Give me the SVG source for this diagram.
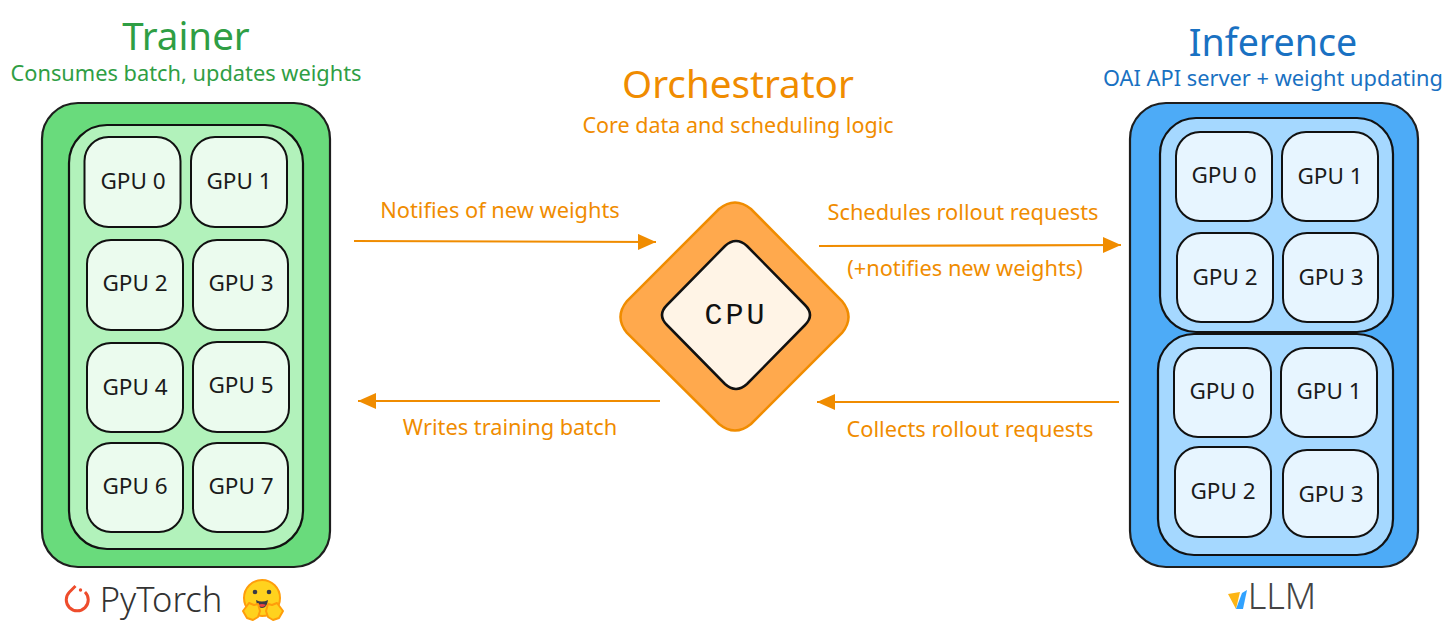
<svg xmlns="http://www.w3.org/2000/svg" width="1456" height="641" viewBox="0 0 1456 641">
<style>
text{font-family:"Noto Sans","Open Sans",sans-serif;text-anchor:middle}
.gpu-t{font-size:22.500px;fill:#1a1a1a}
.g3{fill:#ebfbee;stroke:#111;stroke-width:2}
.g2{fill:#b2f2bb;stroke:#111;stroke-width:2.200}
.g1{fill:#69db7c;stroke:#1e1e1e;stroke-width:2.200}
.b3{fill:#e7f5ff;stroke:#111;stroke-width:2}
.b2{fill:#a5d8ff;stroke:#111;stroke-width:2.200}
.b1{fill:#4dabf7;stroke:#1e1e1e;stroke-width:2.200}
.ol{font-size:21.800px;fill:#f08c00}
.c{stroke:#f08c00;stroke-width:2.200;fill:none;marker-end:url(#ah)}
</style>
<defs>
<marker id="ah" markerUnits="userSpaceOnUse" markerWidth="20" markerHeight="18" refX="18" refY="8" orient="auto"><path d="M0 0L18 8L0 16Z" fill="#f08c00"/></marker>
</defs>
<g id="trainer">
<text x="186" y="50" font-size="38.500" fill="#2f9e44">Trainer</text>
<text x="186" y="81" font-size="21.800" fill="#2f9e44">Consumes batch, updates weights</text>
<rect class="g1" x="42" y="103" width="288" height="464" rx="36"/>
<rect class="g2" x="69" y="125" width="234" height="424" rx="38"/>
</g>
<g id="trainer-gpu0"><rect class="g3" x="84.500" y="137" width="96" height="90" rx="24"/><text class="gpu-t" x="133" y="189">GPU 0</text></g>
<g id="trainer-gpu1"><rect class="g3" x="191" y="137" width="96" height="90" rx="24"/><text class="gpu-t" x="239" y="189">GPU 1</text></g>
<g id="trainer-gpu2"><rect class="g3" x="87" y="240" width="96" height="90" rx="24"/><text class="gpu-t" x="135" y="291">GPU 2</text></g>
<g id="trainer-gpu3"><rect class="g3" x="193" y="240" width="95" height="90" rx="24"/><text class="gpu-t" x="241" y="291">GPU 3</text></g>
<g id="trainer-gpu4"><rect class="g3" x="87" y="343" width="96" height="89" rx="24"/><text class="gpu-t" x="135" y="395">GPU 4</text></g>
<g id="trainer-gpu5"><rect class="g3" x="193" y="342" width="96" height="90" rx="24"/><text class="gpu-t" x="241" y="393">GPU 5</text></g>
<g id="trainer-gpu6"><rect class="g3" x="87" y="443" width="96" height="89" rx="24"/><text class="gpu-t" x="135" y="494">GPU 6</text></g>
<g id="trainer-gpu7"><rect class="g3" x="193" y="443" width="95" height="89" rx="24"/><text class="gpu-t" x="241" y="494">GPU 7</text></g>
<g id="pytorch">
<path d="M75.500 586l-6 6a11 11 0 1 0 15.500 0" fill="none" stroke="#ee4c2c" stroke-width="3"/>
<circle cx="80.500" cy="590" r="1.700" fill="#ee4c2c"/>
<text x="161" y="612" font-size="34.500" font-weight="300" fill="#333">PyTorch</text>
</g>
<g id="hugging-face">
<circle cx="262" cy="598" r="18" fill="#ffd21e" stroke="#ff9d0b" stroke-width="2"/>
<circle cx="255" cy="592" r="2.300" fill="#3a3b45"/><circle cx="269" cy="592" r="2.300" fill="#3a3b45"/>
<path d="M256 600q6 3 12 0q-1 8-6 8t-6-8Z" fill="#3a3b45"/><path d="M258 605q4-2 8 0q-4 4-8 0Z" fill="#ef4444"/>
<path d="M243 611l6-8 5 2 4-1 2 7-2 6-5 3-6-2Z" fill="#ffd21e" stroke="#ff9d0b" stroke-width="2" stroke-linejoin="round"/>
<path d="M283 611l-6-8-5 2-4-1-2 7 2 6 5 3 6-2Z" fill="#ffd21e" stroke="#ff9d0b" stroke-width="2" stroke-linejoin="round"/>
</g>
<g id="orchestrator">
<text x="738" y="98" font-size="38.600" fill="#f08c00">Orchestrator</text>
<text x="738" y="133" font-size="21.500" fill="#f08c00">Core data and scheduling logic</text>
<path d="M719 209Q735 196 751 209L842 301Q855 317 842 333L751 424Q735 437 719 424L627 333Q614 317 627 301Z" fill="#ffa94d" stroke="#f08c00" stroke-width="2.500"/>
<path d="M725 246Q736 236 747 246L805 305Q815 315 805 325L747 384Q736 394 725 384L667 325Q657 315 667 305Z" fill="#fff4e6" stroke="#111" stroke-width="2.500"/>
<text x="736" y="324" font-size="30" letter-spacing="3" fill="#111" style="font-family:'Liberation Mono',monospace">CPU</text>
</g>
<g id="inference">
<text x="1273" y="56" font-size="37.600" fill="#1971c2">Inference</text>
<text x="1273" y="86" font-size="21.800" fill="#1971c2">OAI API server + weight updating</text>
<rect class="b1" x="1130" y="103" width="288" height="464" rx="36"/>
<rect class="b2" x="1160" y="118" width="233" height="214" rx="36"/>
<rect class="b2" x="1158" y="334" width="235" height="221" rx="36"/>
</g>
<g id="inference-a-gpu0"><rect class="b3" x="1176" y="132" width="96" height="89" rx="24"/><text class="gpu-t" x="1224" y="183">GPU 0</text></g>
<g id="inference-a-gpu1"><rect class="b3" x="1282" y="132" width="96" height="89" rx="24"/><text class="gpu-t" x="1330" y="184">GPU 1</text></g>
<g id="inference-a-gpu2"><rect class="b3" x="1177" y="233" width="96" height="89" rx="24"/><text class="gpu-t" x="1225" y="285">GPU 2</text></g>
<g id="inference-a-gpu3"><rect class="b3" x="1283" y="233" width="95" height="89" rx="24"/><text class="gpu-t" x="1331" y="285">GPU 3</text></g>
<g id="inference-b-gpu0"><rect class="b3" x="1174" y="348" width="97" height="89" rx="24"/><text class="gpu-t" x="1222" y="399">GPU 0</text></g>
<g id="inference-b-gpu1"><rect class="b3" x="1281" y="348" width="96" height="89" rx="24"/><text class="gpu-t" x="1329" y="399">GPU 1</text></g>
<g id="inference-b-gpu2"><rect class="b3" x="1175" y="447" width="96" height="90" rx="24"/><text class="gpu-t" x="1223" y="499">GPU 2</text></g>
<g id="inference-b-gpu3"><rect class="b3" x="1283" y="450" width="95" height="87" rx="24"/><text class="gpu-t" x="1331" y="502">GPU 3</text></g>
<g id="vllm">
<path d="M1228 594L1240 592L1236 609Z" fill="#fdb515"/>
<path d="M1236 609L1242 593L1247 590L1243 609Z" fill="#30a2ff"/>
<text x="1282" y="609" font-size="36" font-weight="300" fill="#444">LLM</text>
</g>
<g id="connectors">
<path class="c" d="M354 241L656 242"/>
<path class="c" d="M660 401L358 401"/>
<path class="c" d="M819 246L1121 245"/>
<path class="c" d="M1119 402L817 402"/>
</g>
<g id="connector-labels">
<text class="ol" x="500" y="218">Notifies of new weights</text>
<text class="ol" x="510" y="435">Writes training batch</text>
<text class="ol" x="963" y="220">Schedules rollout requests</text>
<text class="ol" x="965" y="276">(+notifies new weights)</text>
<text class="ol" x="970" y="437">Collects rollout requests</text>
</g>
</svg>
